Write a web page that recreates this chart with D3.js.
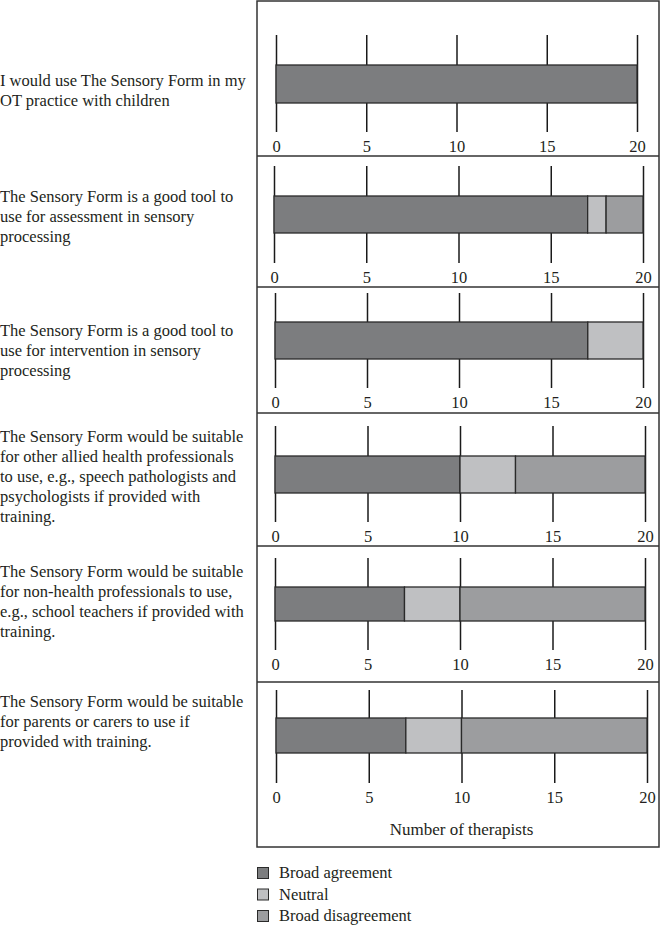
<!DOCTYPE html>
<html>
<head>
<meta charset="utf-8">
<script src="https://cdn.jsdelivr.net/npm/d3@7"></script>
<style>
body { margin: 0; background: #fff; }
text { font-family: "Liberation Serif", "Times New Roman", serif; fill: #231f20; }
</style>
</head>
<body>
<script>
// statements, wrapped as in the figure
var statements = [
  ["I would use The Sensory Form in my", "OT practice with children"],
  ["The Sensory Form is a good tool to", "use for assessment in sensory", "processing"],
  ["The Sensory Form is a good tool to", "use for intervention in sensory", "processing"],
  ["The Sensory Form would be suitable", "for other allied health professionals", "to use, e.g., speech pathologists and", "psychologists if provided with", "training."],
  ["The Sensory Form would be suitable", "for non-health professionals to use,", "e.g., school teachers if provided with", "training."],
  ["The Sensory Form would be suitable", "for parents or carers to use if", "provided with training."]
];
var agree    = [20, 17, 17, 10, 7, 7];
var neutral  = [0, 1, 3, 3, 3, 3];
var disagree = [0, 2, 0, 7, 10, 10];
var ticks = [0, 5, 10, 15, 20];
var legendLabels = ["Broad agreement", "Neutral", "Broad disagreement"];
var axisTitle = "Number of therapists";

var colors = ["#7c7d7f", "#bfc0c2", "#9c9d9f"];

// panel layout (pixels)
var layout = [
  { top: 1,   bottom: 156, gTop: 35,  gBot: 132, bTop: 65,  bBot: 103, x0: 276, x1: 637, ty: 86 },
  { top: 156, bottom: 287, gTop: 166, gBot: 263, bTop: 196, bBot: 233, x0: 274, x1: 643, ty: 202 },
  { top: 287, bottom: 413, gTop: 293, gBot: 388, bTop: 322, bBot: 359, x0: 275, x1: 643, ty: 336 },
  { top: 413, bottom: 546, gTop: 426, gBot: 522, bTop: 456, bBot: 493, x0: 275, x1: 645, ty: 442 },
  { top: 546, bottom: 682, gTop: 558, gBot: 650, bTop: 587, bBot: 621, x0: 275, x1: 645, ty: 577 },
  { top: 682, bottom: 847, gTop: 690, gBot: 783, bTop: 718, bBot: 753, x0: 276, x1: 647, ty: 707 }
];

var width = 661, height = 940;
var boxLeft = 257, boxRight = 659;
var fs = "16.5px";

var svg = d3.select("body").append("svg")
  .attr("width", width)
  .attr("height", height);

var rows = statements.map(function(s, i) {
  return { agree: agree[i], neutral: neutral[i], disagree: disagree[i] };
});
var series = d3.stack().keys(["agree", "neutral", "disagree"])(rows);

layout.forEach(function(L, i) {
  var x = d3.scaleLinear().domain([0, 20]).range([L.x0, L.x1]);
  var g = svg.append("g");

  // gridlines + tick labels
  var ax = g.append("g")
    .attr("transform", "translate(0," + L.gBot + ")")
    .call(d3.axisBottom(x).tickValues(ticks).tickSize(-(L.gBot - L.gTop)).tickFormat(d3.format("d")));
  ax.select(".domain").remove();
  ax.selectAll("line").attr("stroke", "#1a1a1a").attr("stroke-width", 1.5);
  ax.selectAll("text")
    .attr("y", 20).attr("dy", 0)
    .style("font-family", "'Liberation Serif', serif")
    .style("font-size", fs)
    .attr("fill", "#231f20");

  // stacked bar
  series.forEach(function(s, k) {
    var d = s[i];
    if (d[1] - d[0] <= 0) return;
    g.append("rect")
      .attr("x", x(d[0]))
      .attr("y", L.bTop)
      .attr("width", x(d[1]) - x(d[0]))
      .attr("height", L.bBot - L.bTop)
      .attr("fill", colors[k])
      .attr("stroke", "#2a2a2a")
      .attr("stroke-width", 1.3);
  });

  // statement text
  var t = svg.append("text")
    .attr("x", 0)
    .attr("y", L.ty)
    .style("font-size", fs);
  statements[i].forEach(function(line, j) {
    t.append("tspan").attr("x", 0).attr("y", L.ty + j * 20).text(line);
  });

  // separator
  if (i < layout.length - 1) {
    svg.append("line")
      .attr("x1", boxLeft).attr("x2", boxRight)
      .attr("y1", L.bottom).attr("y2", L.bottom)
      .attr("stroke", "#333").attr("stroke-width", 1.5);
  }
});

// outer box
svg.append("rect")
  .attr("x", boxLeft).attr("y", 1)
  .attr("width", boxRight - boxLeft)
  .attr("height", layout[layout.length - 1].bottom - 1)
  .attr("fill", "none")
  .attr("stroke", "#333")
  .attr("stroke-width", 1.5);

var last = layout[layout.length - 1];
svg.append("text")
  .attr("x", (last.x0 + last.x1) / 2)
  .attr("y", 835)
  .attr("text-anchor", "middle")
  .style("font-size", "17px")
  .text(axisTitle);

// legend
var leg = svg.append("g");
legendLabels.forEach(function(lbl, k) {
  var cy = 873 + k * 21.5;
  leg.append("rect")
    .attr("x", 257.5).attr("y", cy - 5.5)
    .attr("width", 11).attr("height", 11)
    .attr("fill", colors[k])
    .attr("stroke", "#2a2a2a").attr("stroke-width", 1);
  leg.append("text")
    .attr("x", 279).attr("y", cy + 5)
    .style("font-size", fs)
    .text(lbl);
});
</script>
</body>
</html>
